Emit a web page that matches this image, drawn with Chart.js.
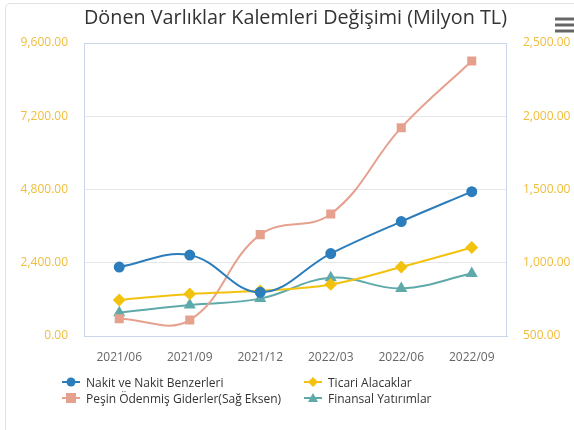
<!DOCTYPE html>
<html>
<head>
<meta charset="utf-8">
<script src="https://cdn.jsdelivr.net/npm/chart.js@4.4.0/dist/chart.umd.min.js"></script>
<style>
  html, body { margin: 0; padding: 0; background: #fff; overflow: hidden; }
  #wrap { position: relative; width: 574px; height: 430px; }
  #frame { position: absolute; left: 5px; top: 3px; width: 600px; height: 440px;
           border: 1px solid #e3e3e3; border-radius: 5px; }
  #myChart { position: absolute; left: 0; top: 0; }
  #legend { position: absolute; left: 62px; top: 374px; font: 12px "Open Sans", sans-serif; color: #333; }
  .item { position: absolute; white-space: nowrap; display: flex; align-items: center; height: 16px; }
  .item svg { margin-right: 6px; }
</style>
</head>
<body>
<div id="wrap">
  <div id="frame"></div>
  <canvas id="myChart" width="574" height="430"></canvas>
  <div id="legend"></div>
</div>
<script>
Chart.defaults.font.family = "'Open Sans', sans-serif";
Chart.defaults.font.size = 12;

// veriler
const donemler = ['2021/06', '2021/09', '2021/12', '2022/03', '2022/06', '2022/09'];
const nakit = [2260, 2650, 1430, 2700, 3750, 4730];
const ticari = [1180, 1380, 1480, 1690, 2260, 2900];
const pesin = [618, 609, 1192, 1333, 1922, 2377];   // sağ eksen
const finansal = [765, 1015, 1225, 1910, 1560, 2050];
const solTicks = [0, 2400, 4800, 7200, 9600];
const sagTicks = [500, 1000, 1500, 2000, 2500];

const seriler = [
  { label: 'Nakit ve Nakit Benzerleri', data: nakit, color: '#2b7dbc', style: 'circle', axis: 'y' },
  { label: 'Ticari Alacaklar', data: ticari, color: '#f2c20e', style: 'rectRot', axis: 'y' },
  { label: 'Peşin Ödenmiş Giderler(Sağ Eksen)', data: pesin, color: '#e6a18e', style: 'rect', axis: 'y1' },
  { label: 'Finansal Yatırımlar', data: finansal, color: '#5fa9aa', style: 'triangle', axis: 'y' }
];

const fmt = (v) => v.toLocaleString('en-US', { minimumFractionDigits: 2, maximumFractionDigits: 2 });
const tickRenk = '#f0bd3c';
const cerceve = '#ccd6eb';

// menü ikonu + çerçeve
const ekstra = {
  id: 'ekstra',
  beforeDatasetsDraw(chart) {
    const a = chart.chartArea, c = chart.ctx;
    c.save();
    c.strokeStyle = cerceve;
    c.lineWidth = 1;
    c.strokeRect(a.left + 0.5, a.top + 0.5, a.right - a.left - 1, a.bottom - a.top);
    c.restore();
  },
  afterDraw(chart) {
    const c = chart.ctx;
    c.save();
    c.strokeStyle = '#666';
    c.lineWidth = 3;
    [19, 25, 31].forEach(y => {
      c.beginPath(); c.moveTo(555, y); c.lineTo(574, y); c.stroke();
    });
    c.restore();
  }
};

var ctx = document.getElementById('myChart').getContext('2d');
var myChart = new Chart(ctx, {
  type: 'line',
  data: {
    labels: donemler,
    datasets: seriler.map(s => ({
      label: s.label,
      data: s.data,
      yAxisID: s.axis,
      borderColor: s.color,
      backgroundColor: s.color,
      pointBackgroundColor: s.color,
      pointBorderColor: s.color,
      pointStyle: s.style,
      pointRadius: s.style === 'circle' ? 4.5 : 5,
      borderWidth: 2,
      tension: 0.4,
      fill: false
    }))
  },
  options: {
    responsive: false,
    animation: false,
    layout: { padding: { top: 2, bottom: 66, left: 0, right: 0 } },
    plugins: {
      legend: { display: false },
      tooltip: { enabled: false },
      title: {
        display: true,
        fullSize: false,
        text: 'Dönen Varlıklar Kalemleri Değişimi (Milyon TL)',
        color: '#333',
        font: { size: 20, weight: 'normal' },
        padding: { top: 4, bottom: 13 }
      }
    },
    scales: {
      x: {
        offset: true,
        grid: { display: false },
        border: { color: cerceve },
        ticks: { color: '#666', padding: 6 },
        afterFit: (s) => { s.height = 28; }
      },
      y: {
        position: 'left',
        min: 0, max: 9600,
        afterBuildTicks: (s) => { s.ticks = solTicks.map(v => ({ value: v })); },
        grid: { color: '#e6e6e6', drawTicks: false },
        border: { display: false },
        ticks: { color: tickRenk, padding: 16, callback: (v) => fmt(v) },
        afterFit: (s) => { s.width = 84; }
      },
      y1: {
        position: 'right',
        min: 500, max: 2500,
        afterBuildTicks: (s) => { s.ticks = sagTicks.map(v => ({ value: v })); },
        grid: { display: false, drawTicks: false },
        border: { display: false },
        ticks: { color: tickRenk, padding: 16, callback: (v) => fmt(v) },
        afterFit: (s) => { s.width = 67; }
      }
    }
  },
  plugins: [ekstra]
});

// lejant (iki sütun)
const lejant = document.getElementById('legend');
const sekil = (s) => {
  let m = '';
  if (s.style === 'circle') m = `<circle cx="9" cy="7" r="4.5" fill="${s.color}"/>`;
  if (s.style === 'rect') m = `<rect x="4" y="2" width="10" height="10" fill="${s.color}"/>`;
  if (s.style === 'rectRot') m = `<polygon points="9,2 14,7 9,12 4,7" fill="${s.color}"/>`;
  if (s.style === 'triangle') m = `<polygon points="9,2 14,11 4,11" fill="${s.color}"/>`;
  return `<svg width="18" height="14"><line x1="0" y1="7" x2="18" y2="7" stroke="${s.color}" stroke-width="2"/>${m}</svg>`;
};
seriler.forEach((s, i) => {
  const d = document.createElement('div');
  d.className = 'item';
  d.style.left = (i % 2 === 0 ? 0 : 242) + 'px';
  d.style.top = (Math.floor(i / 2) * 16) + 'px';
  d.innerHTML = sekil(s) + '<span>' + s.label + '</span>';
  lejant.appendChild(d);
});
</script>
</body>
</html>
